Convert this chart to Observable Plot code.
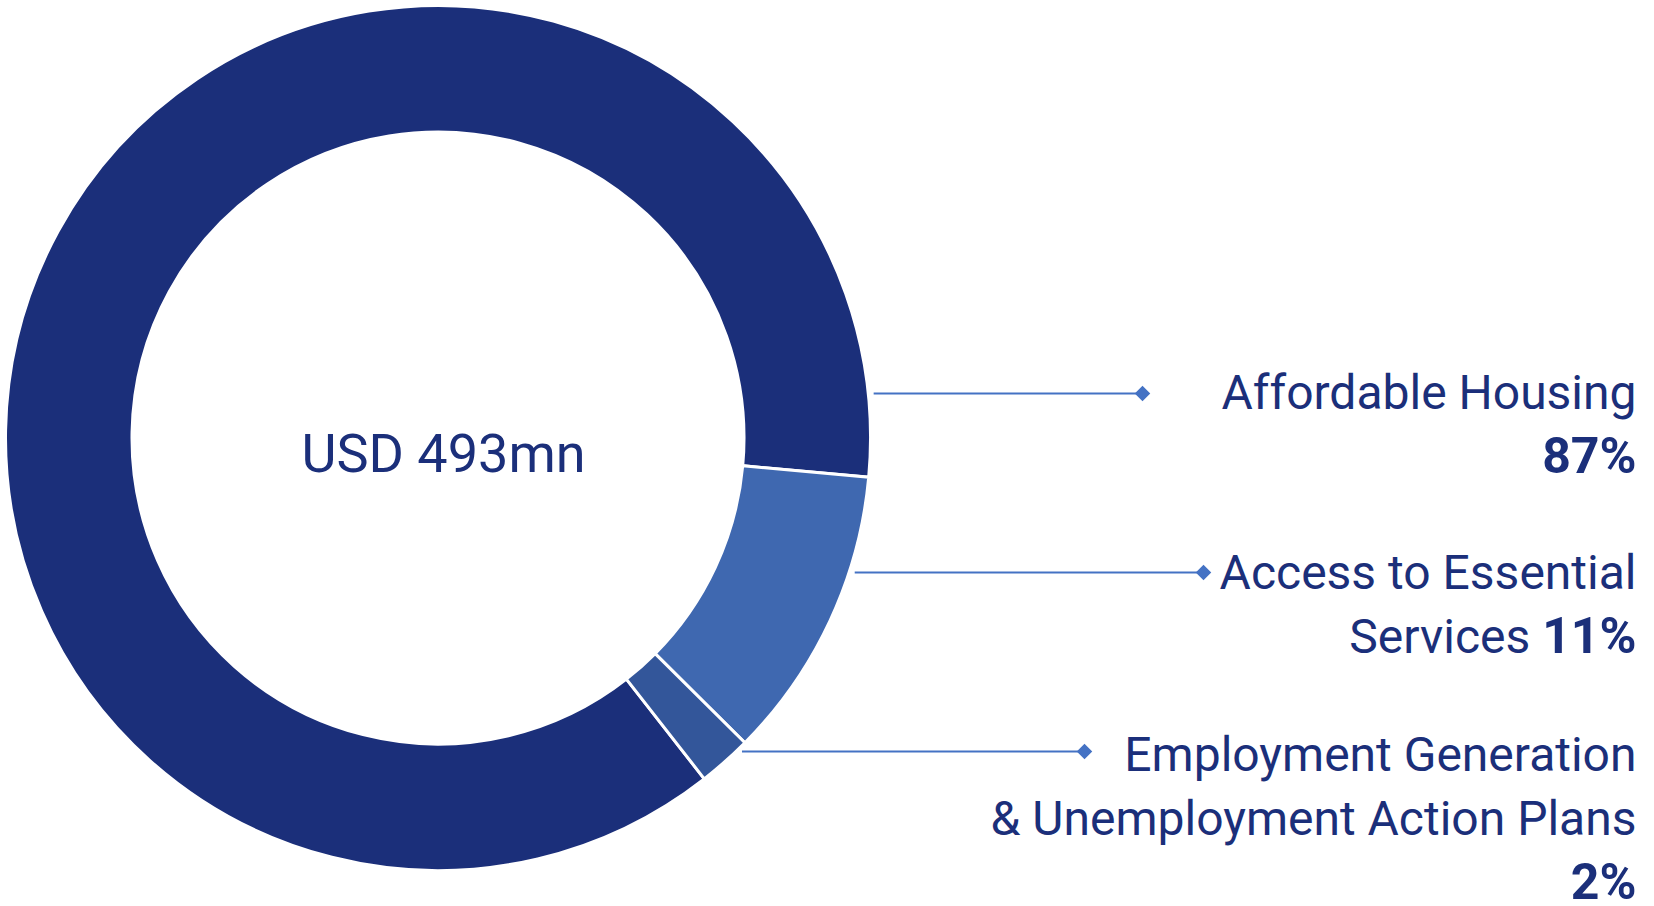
<!DOCTYPE html>
<html><head><meta charset="utf-8">
<script src="https://cdn.jsdelivr.net/npm/d3@7"></script>
<script src="https://cdn.jsdelivr.net/npm/@observablehq/plot@0.6"></script>
<style>
html,body{margin:0;padding:0;background:#fff}
svg{font-family:Roboto,"Noto Sans",sans-serif}
</style></head>
<body><div id="chart"></div>
<script>
// ---- data ----
const categories = ["Affordable Housing", "Access to Essential Services", "Employment Generation & Unemployment Action Plans"];
const shares = [87, 11, 2];
const percentLabels = ["87%", "11%", "2%"];
const totalLabel = "USD 493mn";
// label lines: [plain text, bold text]
const labelLines = [
  [["Affordable Housing", ""], ["", "87%"]],
  [["Access to Essential", ""], ["Services ", "11%"]],
  [["Employment Generation", ""], ["& Unemployment Action Plans", ""], ["", "2%"]]
];
const sliceColors = ["#1b2f7a", "#3f68b0", "#33569a"];

// ---- layout ----
const W = 1654, H = 906;
const cx = 438, cy = 438, rOuter = 432.5, rInner = 306;
const startDeg = 142;
const navy = "#1b2f7a", leader = "#4472c4";
const labelRight = 1636;
const leaderY = [393, 572, 751];
const leaderEndX = [1142, 1203, 1084];
const firstBaseline = [408, 588, 770];
const lineStep = [64, 64, 64];
const fontSize = 48;

const pie = d3.pie().sort(null).value(d => d.value)
  .startAngle(startDeg * Math.PI / 180).endAngle(startDeg * Math.PI / 180 + 2 * Math.PI);
const slices = pie(categories.map((c, i) => ({category: c, value: shares[i], color: sliceColors[i]})));

const leaders = categories.map((c, i) => {
  const dy = leaderY[i] - cy;
  return {category: c, y: leaderY[i], x1: cx + Math.sqrt(rOuter * rOuter - dy * dy) + 5, x2: leaderEndX[i]};
});

const textRows = [];
labelLines.forEach((lines, i) => lines.forEach((ln, j) => {
  textRows.push({category: categories[i], plain: ln[0], bold: ln[1], x: labelRight, y: firstBaseline[i] + j * lineStep[i]});
}));

function donut(index, scales) {
  const g = d3.create("svg:g");
  const x0 = scales.x(cx), y0 = scales.y(cy);
  const ro = scales.x(cx + rOuter) - x0, ri = scales.x(cx + rInner) - x0;
  const arc = d3.arc().innerRadius(ri).outerRadius(ro);
  g.selectAll("path").data(slices).join("path")
    .attr("transform", `translate(${x0},${y0})`)
    .attr("d", arc)
    .attr("fill", d => d.data.color)
    .attr("stroke", "#fff").attr("stroke-width", 3).attr("stroke-linejoin", "miter");
  return g.node();
}

const chart = Plot.plot({
  width: W, height: H,
  margin: 0,
  x: {domain: [0, W], range: [0, W], axis: null},
  y: {domain: [0, H], range: [0, H], axis: null},
  style: {background: "#fff", fontFamily: "Roboto, 'Noto Sans', sans-serif"},
  marks: [
    donut,
    Plot.text([totalLabel], {x: () => cx + 5, y: () => 471, text: d => d, fontSize: 54, fill: navy, textAnchor: "middle", lineAnchor: "bottom"}),
    Plot.link(leaders, {x1: "x1", x2: "x2", y1: "y", y2: "y", stroke: leader, strokeWidth: 2}),
    Plot.dot(leaders, {x: "x2", y: "y", symbol: "diamond2", r: 7, fill: leader, stroke: "none"}),
    Plot.text(textRows, {x: "x", y: "y", text: d => d.plain + d.bold, fontSize, fill: navy, textAnchor: "end", lineAnchor: "bottom", ariaDescription: "labels"})
  ]
});

// make bold parts bold
d3.select(chart).selectAll('g[aria-description="labels"] text').each(function(_, k) {
  const t = d3.select(this);
  const row = textRows[k];
  t.text(null);
  if (row.plain) t.append("tspan").text(row.plain);
  if (row.bold) t.append("tspan").attr("font-weight", "bold").attr("font-size", 50).text(row.bold);
});
document.getElementById("chart").appendChild(chart);
</script>
</body></html>
